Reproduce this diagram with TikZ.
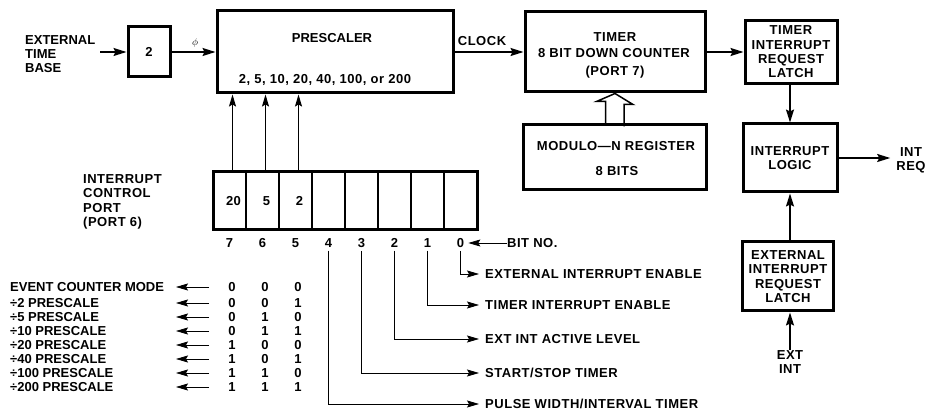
\documentclass[tikz,border=0pt]{standalone}
\usepackage{fontspec}
\setmainfont[LetterSpace=4]{Liberation Sans}
\newfontfamily\tightsf{Liberation Sans}
\usetikzlibrary{arrows.meta, positioning, calc}

\begin{document}
\begin{tikzpicture}[x=1pt, y=-1pt,
    every node/.style={font=\bfseries\fontsize{13}{14.3}\selectfont, inner sep=0pt},
    tight/.style={font=\tightsf\bfseries\fontsize{13}{14.3}\selectfont},
    blk/.style={draw, line width=3pt, align=center},
    cell/.style={draw, line width=1.5pt, minimum width=33pt, minimum height=58pt, outer sep=0pt},
    flow/.style={line width=1.6pt, -{Stealth[length=13pt, width=8pt, inset=2pt]}},
    lead/.style={line width=0.8pt, -{Stealth[length=12pt, width=7pt, inset=2pt]}},
]
    \useasboundingbox (0,0) rectangle (926,411);

    % Time base and prescaler
    \node[tight, align=left, anchor=west] (ext) at (25,54) {EXTERNAL\\TIME\\BASE};
    \node[blk, minimum width=42pt, minimum height=50pt] (div) at (149,52) {2};
    \node[blk, minimum width=236pt, minimum height=82pt] (pre) at (335,52) {};
    \node[tight] (pretitle) at (332,38) {PRESCALER};
    \node (preratio) at (325,80) {2, 5, 10, 20, 40, 100, or 200};
    \node[font=\normalsize] (phi) at (195,43) {$\phi$};

    \draw[flow, shorten <=5pt] (div.west -| ext.east) -- (div.west);
    \draw[flow] (div.east) -- (pre.west);

    % Timer
    \node[blk, minimum width=180pt, minimum height=80pt] (timer) at (615,52) {};
    \node (tmr1) at (615,37) {TIMER};
    \node (tmr2) at (614,53) {8 BIT DOWN COUNTER};
    \node (tmr3) at (615,72) {(PORT 7)};
    \node (clk) at (482,41) {CLOCK};
    \draw[flow] (pre.east) -- (timer.west);

    \node[blk, minimum width=183pt, minimum height=65pt] (modn) at (614.5,157.5) {};
    \node (modn1) at (616,146) {MODULO—N REGISTER};
    \node (modn2) at (617,171) {8 BITS};

    % hollow arrow modulo -> timer
    \draw[line width=1.5pt, line join=miter]
        ($(modn.north)+(-9,0)$) -- ++(0,-22) -- ++(-9,0) -- (timer.south)
        -- ++(18,11) -- ++(-9,0) -- ++(0,22);

    % Interrupt path
    \node[blk, minimum width=92pt, minimum height=63pt] (tirl) at (791,52) {TIMER\\INTERRUPT\\REQUEST\\LATCH};
    \node[blk, minimum width=94pt, minimum height=68pt] (ilog) at (790,158) {INTERRUPT\\LOGIC};
    \node[align=center] (intreq) at (911,160) {INT\\REQ};
    \node[blk, minimum width=91pt, minimum height=69pt] (eirl) at (788,276.5) {EXTERNAL\\INTERRUPT\\REQUEST\\LATCH};
    \node[align=center] (extint) at (790,362) {EXT\\INT};

    \draw[flow] (timer.east) -- (timer.east -| tirl.west);
    \draw[flow] (tirl.south -| ilog.north) -- (ilog.north);
    \draw[flow, shorten >=6pt] (ilog.east) -- (ilog.east -| intreq.west);
    \draw[flow] (extint.north) -- (extint.north |- eirl.south);
    \draw[flow] (eirl.north -| ilog.south) -- (ilog.south);

    % Port 6 register
    \node[align=left, anchor=west] (icp) at (83,202) {INTERRUPT\\CONTROL\\PORT\\(PORT 6)};
    \foreach \b in {0,...,7}
        \node[cell] (b\b) at ({229.5+33*(7-\b)},201) {};
    \draw[line width=3pt] (b7.north west) rectangle (b0.south east);
    \foreach \b/\v in {7/20, 6/5, 5/2}
        \node (v\b) at ([xshift=4pt]b\b.center) {\v};
    \foreach \b in {0,...,7}
        \node (n\b) at ($(b\b.south)+(0,13)$) {\b};
    \foreach \b in {7,6,5}
        \draw[lead, line width=1pt] ([xshift=3pt]b\b.north) -- ([xshift=3pt]b\b.north |- pre.south);

    \node[anchor=west] (bitno) at (507,243) {BIT NO.};
    \draw[lead, shorten >=4pt] (bitno.west) -- (n0.east);

    % Bit functions
    \foreach \b/\y/\t in {0/274/{EXTERNAL INTERRUPT ENABLE}, 1/305/{TIMER INTERRUPT ENABLE},
                          2/339/{EXT INT ACTIVE LEVEL}, 3/373/{START/STOP TIMER},
                          4/404/{PULSE WIDTH/INTERVAL TIMER}}
    {
        \node[anchor=west] (f\b) at (485,\y) {\t};
        \draw[lead, shorten <=3pt, shorten >=6pt] (n\b.south) |- (f\b.west);
    }

    % Prescale select table
    \foreach \y/\t/\p/\q/\s [count=\r] in {287/{EVENT COUNTER MODE}/0/0/0, 303/{÷2 PRESCALE}/0/0/1,
        317/{÷5 PRESCALE}/0/1/0, 331/{÷10 PRESCALE}/0/1/1, 345/{÷20 PRESCALE}/1/0/0,
        359/{÷40 PRESCALE}/1/0/1, 373/{÷100 PRESCALE}/1/1/0, 387/{÷200 PRESCALE}/1/1/1}
    {
        \node[tight, anchor=west] (mode\r) at (10,\y) {\t};
        \node (m\r-a) at (232,\y) {\p};
        \node (m\r-b) at (265,\y) {\q};
        \node (m\r-c) at (298,\y) {\s};
        \coordinate (tip\r) at (176,\y);
        \draw[lead, shorten <=19pt] (m\r-a.west) -- (tip\r);
    }
\end{tikzpicture}
\end{document}
